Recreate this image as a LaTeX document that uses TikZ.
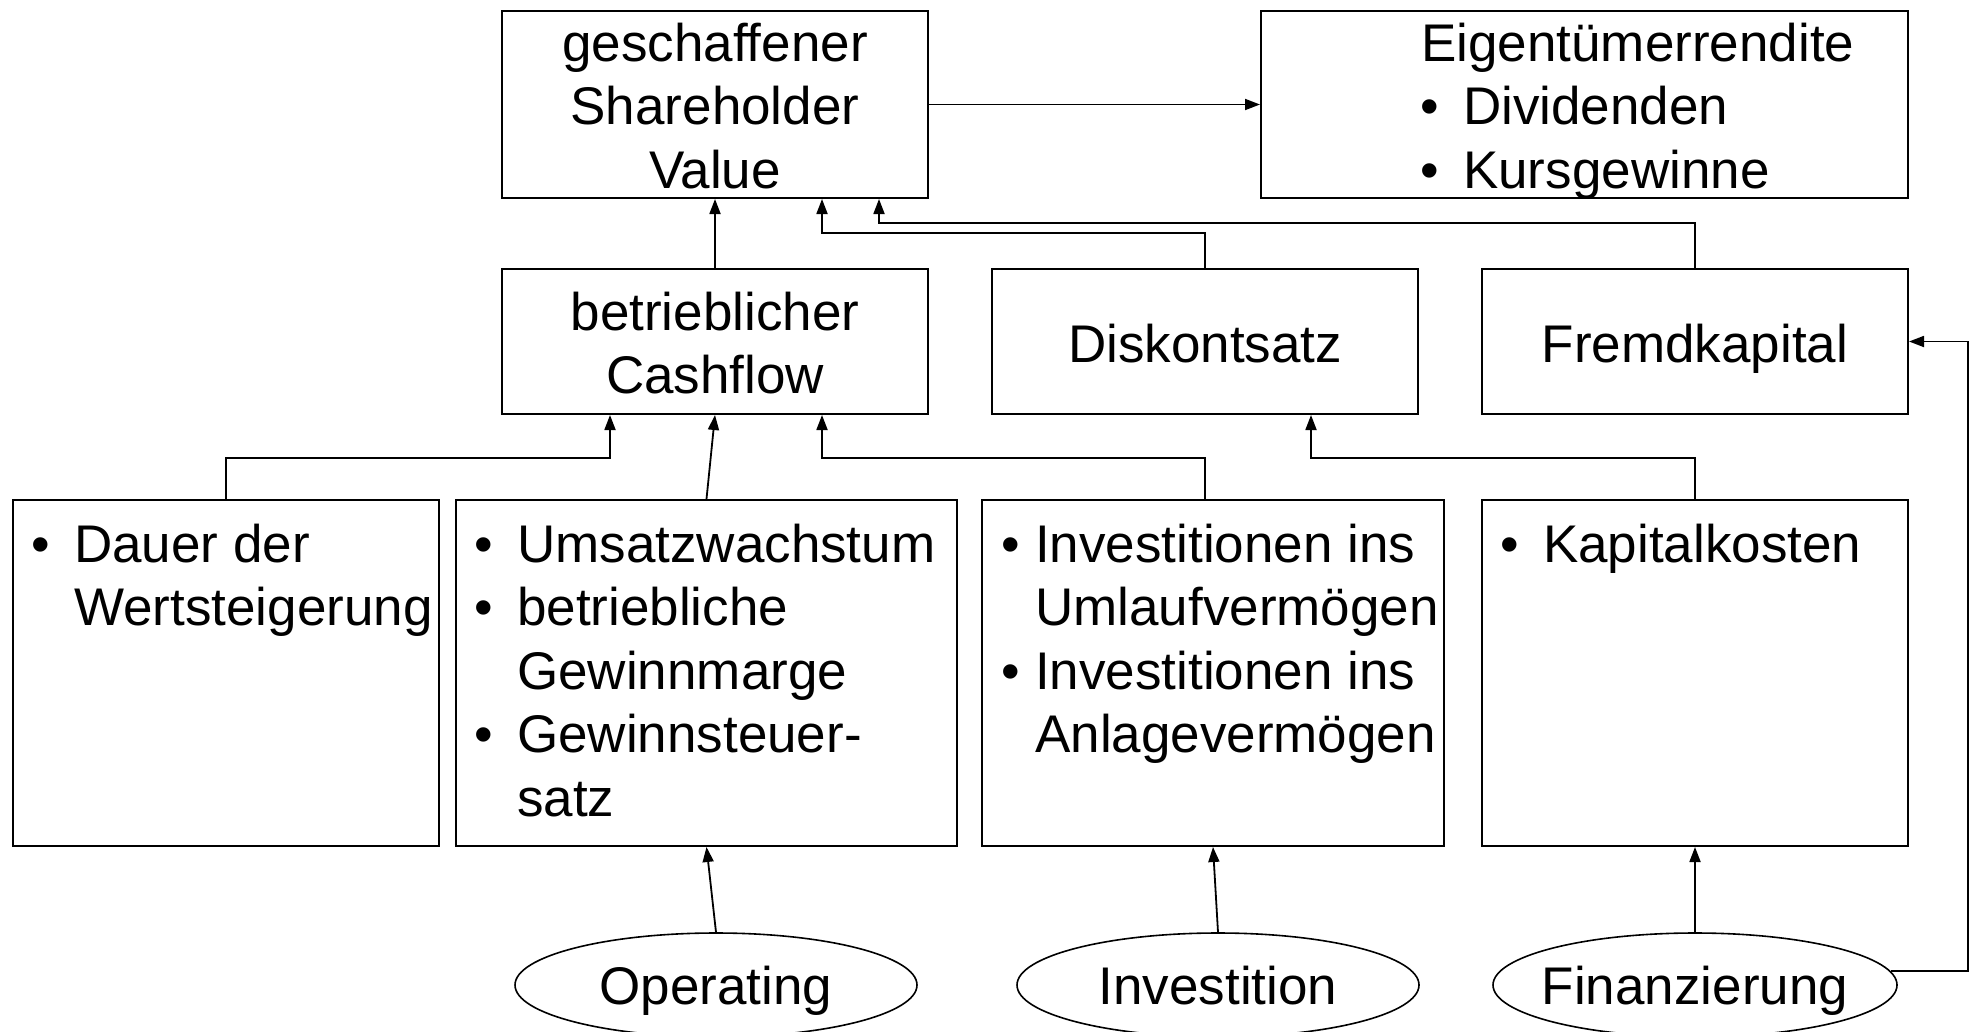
\documentclass[tikz,border=0pt]{standalone}
\usepackage{fontspec}
\setmainfont{Liberation Sans}
\usetikzlibrary{shapes.geometric,arrows.meta}
\newcommand\mybul{\llap{•\hspace{24pt}}}
\newcommand\mybulb{\llap{•\hspace{15pt}}}
\begin{document}
\begin{tikzpicture}[x=1pt,y=-1pt,
  box/.style={draw, line width=2pt, inner sep=0pt, minimum height=#1},
  oval/.style={draw, ellipse, line width=1.6pt, inner sep=0pt, minimum height=104pt},
  txt/.style={inner sep=0pt, font=\fontsize{53}{63.5}\selectfont},
  arr/.style={line width=1.8pt, -{Triangle[length=15pt,width=11pt]}}]
\useasboundingbox (0,0) rectangle (1977,1031);
\clip (0,0) rectangle (1977,1031);
% boxes
\node[box=187pt, minimum width=426pt] (sv)  at (715,104.5) {};
\node[box=187pt, minimum width=647pt] (eig) at (1584.5,104.5) {};
\node[box=145pt, minimum width=426pt] (cf)  at (715,341.5) {};
\node[box=145pt, minimum width=426pt] (dk)  at (1205,341.5) {};
\node[box=145pt, minimum width=426pt] (fk)  at (1695,341.5) {};
\node[box=346pt, minimum width=426pt] (da)  at (226,673) {};
\node[box=346pt, minimum width=501pt] (um)  at (706.5,673) {};
\node[box=346pt, minimum width=462pt] (iv)  at (1213,673) {};
\node[box=346pt, minimum width=426pt] (kk)  at (1695,673) {};
\node[oval, minimum width=402pt] (op)  at (716,985) {};
\node[oval, minimum width=402pt] (ivn) at (1218,985) {};
\node[oval, minimum width=404pt] (fin) at (1695,985) {};
% texts
\node[txt, anchor=base] (tsv) at (715,61) {\begin{tabular}[t]{@{}c@{}}geschaffener\\Shareholder\\Value\end{tabular}};
\node[txt, anchor=base west] (teig) at (1463,61) {\begin{tabular}[t]{@{}l@{}}\hspace*{-42pt}Eigentümerrendite\\\mybul Dividenden\\\mybul Kursgewinne\end{tabular}};
\node[txt, anchor=base] (tcf) at (715,330) {\begin{tabular}[t]{@{}c@{}}betrieblicher\\Cashflow\end{tabular}};
\node[txt, anchor=base] (tdk) at (1205,362) {Diskontsatz};
\node[txt, anchor=base] (tfk) at (1695,362) {Fremdkapital};
\node[txt, anchor=base west] (tda) at (74,562) {\begin{tabular}[t]{@{}l@{}}\mybul Dauer der\\Wertsteigerung\end{tabular}};
\node[txt, anchor=base west] (tum) at (517,562) {\begin{tabular}[t]{@{}l@{}}\mybul Umsatzwachstum\\\mybul betriebliche\\Gewinnmarge\\\mybul Gewinnsteuer-\\satz\end{tabular}};
\node[txt, anchor=base west] (tiv) at (1035,562) {\begin{tabular}[t]{@{}l@{}}\mybulb Investitionen ins\\Umlaufvermögen\\\mybulb Investitionen ins\\Anlagevermögen\end{tabular}};
\node[txt, anchor=base west] (tkk) at (1543,562) {\mybul Kapitalkosten};
\node[txt, anchor=base] (top) at (716,1004) {Operating};
\node[txt, anchor=base] (tivn) at (1218,1004) {Investition};
\node[txt, anchor=base] (tfin) at (1695,1004) {Finanzierung};
% bend coordinates
\coordinate (b1) at (822,233);
\coordinate (b2) at (879,223);
\coordinate (b3) at (610,458);
\coordinate (b4) at (822,458);
\coordinate (b5) at (1311,458);
\coordinate (b6) at (1968,341.5);
% connectors
\draw[arr] (sv.east) -- (eig.west);
\draw[arr] (cf.north) -- (sv.south);
\draw[arr] (dk.north) |- (b1) -- (b1 |- sv.south);
\draw[arr] (fk.north) |- (b2) -- (b2 |- sv.south);
\draw[arr] (da.north) |- (b3) -- (b3 |- cf.south);
\draw[arr] (um.north) -- (cf.south);
\draw[arr] ([xshift=-8pt]iv.north) |- (b4) -- (b4 |- cf.south);
\draw[arr] (kk.north) |- (b5) -- (b5 |- dk.south);
\draw[arr] (op.north) -- (um.south);
\draw[arr] (ivn.north) -- (iv.south);
\draw[arr] (fin.north) -- (kk.south);
\draw[arr] (fin.4) -| (b6) -- (fk.east);
\end{tikzpicture}
\end{document}
